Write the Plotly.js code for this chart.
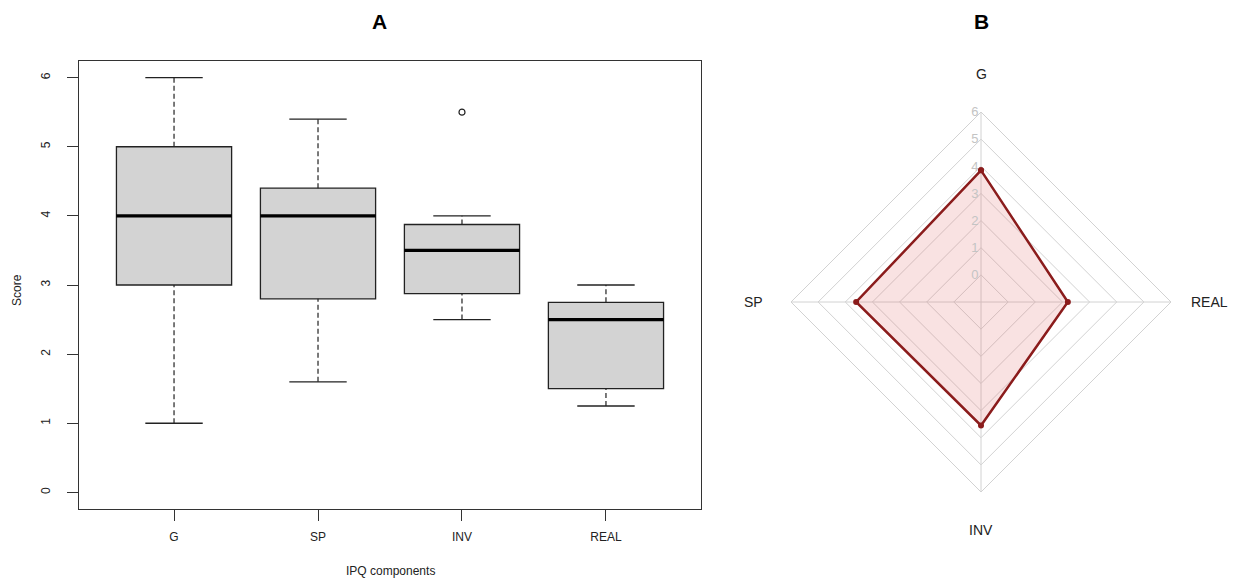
<!DOCTYPE html>
<html>
<head>
<meta charset="utf-8">
<script src="https://cdn.plot.ly/plotly-3.0.1.min.js"></script>
<style>html,body{margin:0;padding:0;background:#fff;}#chart{width:1233px;height:581px;}</style>
</head>
<body>
<div id="chart"></div>
<script>
// ---- Data (panel A: box plot summary per IPQ component) ----
const categories = ['G', 'SP', 'INV', 'REAL'];
const lowerWhisker = [1, 1.6, 2.5, 1.25];
const q1 = [3, 2.8, 2.875, 1.5];
const medians = [4, 4, 3.5, 2.5];
const q3 = [5, 4.4, 3.875, 2.75];
const upperWhisker = [6, 5.4, 4, 3];
const outlierCategories = ['INV'];
const outlierValues = [5.5];
const yTickValues = [0, 1, 2, 3, 4, 5, 6];

// ---- Data (panel B: radar of mean scores) ----
const radarAxes = ['G', 'SP', 'INV', 'REAL'];
const radarValues = [3.85, 3.6, 3.55, 2.2];
const radarTicks = [0, 1, 2, 3, 4, 5, 6];

const W = 1233, H = 581;
const font = 'Liberation Sans, Arial, sans-serif';
const ink = '#222';
const radarMin = -1, radarMax = 6;

// polar domain (pixels) and fmsb-style axis-label ring at 1.2 x outer radius
const pol = {x0: 791, x1: 1171, y0: 112, y1: 492};
const pcx = (pol.x0 + pol.x1) / 2, pcy = (pol.y0 + pol.y1) / 2, pR = (pol.x1 - pol.x0) / 2;
const radarLabelAnnotations = radarAxes.map((name, i) => {
  const ang = Math.PI / 2 + i * 2 * Math.PI / radarAxes.length; // counterclockwise from top
  const px = pcx + 1.2 * pR * Math.cos(ang);
  const py = pcy - 1.2 * pR * Math.sin(ang);
  return {text: name, x: px / W, y: 1 - py / H, xref: 'paper', yref: 'paper',
          xanchor: 'center', yanchor: 'middle', showarrow: false,
          font: {size: 14, color: ink, family: font}};
});

// whisker segments (dashed) built from the summary arrays
const wx = [], wy = [];
categories.forEach((c, i) => {
  wx.push(c, c, null, c, c, null);
  wy.push(lowerWhisker[i], q1[i], null, q3[i], upperWhisker[i], null);
});
const capX = categories.concat(categories);
const capY = lowerWhisker.concat(upperWhisker);

const traces = [
  {
    type: 'scatter', mode: 'lines', x: wx, y: wy,
    line: {color: ink, width: 1.2, dash: '5px,3px'},
    hoverinfo: 'skip', xaxis: 'x', yaxis: 'y'
  },
  {
    type: 'scatter', mode: 'markers', x: capX, y: capY,
    marker: {symbol: 'line-ew', size: 41, line: {color: ink, width: 1.3}},
    hoverinfo: 'skip', xaxis: 'x', yaxis: 'y'
  },
  {
    type: 'box', x: categories, q1: q1, median: medians, q3: q3,
    lowerfence: q1, upperfence: q3,
    width: 0.8, whiskerwidth: 0,
    fillcolor: '#d3d3d3', line: {color: ink, width: 1.3},
    boxpoints: false, hoverinfo: 'skip', xaxis: 'x', yaxis: 'y'
  },
  {
    type: 'scatter', mode: 'markers', x: categories, y: medians,
    marker: {symbol: 'line-ew', size: 82.5, line: {color: '#000', width: 3.2}},
    hoverinfo: 'skip', xaxis: 'x', yaxis: 'y'
  },
  {
    type: 'scatter', mode: 'markers', x: outlierCategories, y: outlierValues,
    marker: {symbol: 'circle-open', size: 6, color: ink, line: {width: 1.2}},
    hoverinfo: 'skip', xaxis: 'x', yaxis: 'y'
  },
  {
    type: 'scatterpolar', subplot: 'polar',
    r: radarValues.concat([radarValues[0]]),
    theta: radarAxes.concat([radarAxes[0]]),
    mode: 'lines+markers', fill: 'toself',
    fillcolor: 'rgba(226,110,110,0.2)',
    line: {color: '#8b1c1c', width: 2.5},
    marker: {color: '#8b1c1c', size: 6},
    hoverinfo: 'skip'
  }
];

const layout = {
  width: W, height: H,
  margin: {l: 0, r: 0, t: 0, b: 0},
  paper_bgcolor: '#fff', plot_bgcolor: '#fff',
  showlegend: false, hovermode: false,
  font: {family: font, color: ink, size: 12},
  xaxis: {
    domain: [79 / W, 701 / W],
    type: 'category', categoryorder: 'array', categoryarray: categories,
    range: [-0.66, 3.66],
    showline: true, mirror: true, linecolor: '#333', linewidth: 1,
    showgrid: false, zeroline: false,
    ticks: 'outside', ticklen: 11, tickwidth: 1, tickcolor: '#333',
    ticklabelstandoff: 6,
    tickfont: {size: 12, color: ink}
  },
  yaxis: {
    domain: [(H - 509) / H, (H - 61) / H],
    range: [-0.24, 6.24],
    tickvals: yTickValues,
    showline: true, mirror: true, linecolor: '#333', linewidth: 1,
    showgrid: false, zeroline: false,
    ticks: 'outside', ticklen: 11, tickwidth: 1, tickcolor: '#333',
    ticklabelstandoff: 12,
    tickangle: -90, tickfont: {size: 12, color: ink}
  },
  polar: {
    domain: {x: [pol.x0 / W, pol.x1 / W], y: [(H - pol.y1) / H, (H - pol.y0) / H]},
    gridshape: 'linear', bgcolor: '#fff',
    radialaxis: {
      range: [radarMin, radarMax], tickvals: radarTicks, angle: 90, tickangle: 90,
      side: 'counterclockwise', showline: false, ticks: '',
      gridcolor: '#d2d2d2', gridwidth: 1,
      tickfont: {size: 13, color: '#c4c4c4'}
    },
    angularaxis: {
      rotation: 90, direction: 'counterclockwise',
      categoryorder: 'array', categoryarray: radarAxes,
      gridcolor: '#d2d2d2', linecolor: '#d2d2d2', showline: true,
      ticks: '', showticklabels: false
    }
  },
  annotations: [
    {text: '<b>A</b>', x: 380 / W, y: 1 - 22 / H, xref: 'paper', yref: 'paper',
     xanchor: 'center', yanchor: 'middle',
     showarrow: false, font: {size: 21, color: '#000', family: font}},
    {text: '<b>B</b>', x: 981 / W, y: 1 - 22 / H, xref: 'paper', yref: 'paper',
     xanchor: 'center', yanchor: 'middle',
     showarrow: false, font: {size: 21, color: '#000', family: font}},
    {text: 'Score', x: 17 / W, y: 1 - 290 / H, xref: 'paper', yref: 'paper',
     xanchor: 'center', yanchor: 'middle',
     textangle: -90, showarrow: false, font: {size: 12, color: ink}},
    {text: 'IPQ components', x: 390 / W, y: 1 - 571 / H, xref: 'paper', yref: 'paper',
     xanchor: 'center', yanchor: 'middle',
     showarrow: false, font: {size: 12, color: ink}}
  ].concat(radarLabelAnnotations)
};

Plotly.newPlot('chart', traces, layout, {displayModeBar: false, staticPlot: true});
</script>
</body>
</html>
